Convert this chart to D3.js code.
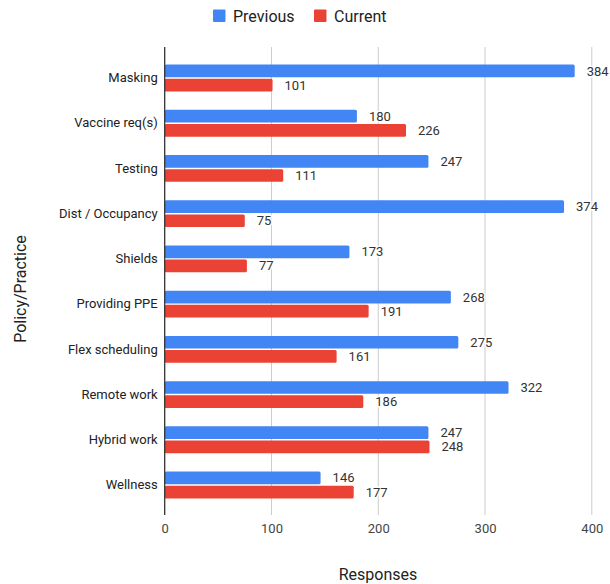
<!DOCTYPE html>
<html>
<head>
<meta charset="utf-8">
<script src="https://cdn.jsdelivr.net/npm/d3@7"></script>
<style>
  html, body { margin: 0; padding: 0; background: #fff; }
  svg { display: block; font-family: Roboto, "Noto Sans", Arial, sans-serif; }
  .val { paint-order: stroke; stroke: #fff; stroke-width: 3px; stroke-linejoin: round; }
</style>
</head>
<body>
<svg id="chart" width="610" height="584"></svg>
<script>
// Survey responses per policy / practice
const categories = ["Masking", "Vaccine req(s)", "Testing", "Dist / Occupancy", "Shields",
  "Providing PPE", "Flex scheduling", "Remote work", "Hybrid work", "Wellness"];
const previousValues = [384, 180, 247, 374, 173, 268, 275, 322, 247, 146];
const currentValues  = [101, 226, 111, 75, 77, 191, 161, 186, 248, 177];
const seriesNames = ["Previous", "Current"];
const seriesColors = ["#4285F4", "#EA4335"];
const xTicks = [0, 100, 200, 300, 400];

const svg = d3.select("#chart");
const plot = { left: 164.7, right: 591.8, top: 47, bottom: 515 };

const x = d3.scaleLinear().domain([0, 400]).range([plot.left, plot.right]);
const y = d3.scaleBand().domain(categories).range([55.4, 507.6]);
const ySub = d3.scaleBand().domain(seriesNames).range([-13.4, 13.4]).paddingInner(0.1);

const rows = categories.map((c, i) => ({
  category: c,
  values: [previousValues[i], currentValues[i]]
}));

// vertical gridlines
svg.append("g").selectAll("line")
  .data(xTicks.filter(t => t !== 0))
  .join("line")
  .attr("x1", d => x(d)).attr("x2", d => x(d))
  .attr("y1", plot.top).attr("y2", plot.bottom)
  .attr("stroke", "#cccccc").attr("stroke-width", 1);

// x tick labels
const xAxis = d3.axisBottom(x).tickValues(xTicks).tickSize(0).tickPadding(9);
const gx = svg.append("g").attr("transform", `translate(0,${plot.bottom})`).call(xAxis);
gx.select(".domain").remove();
gx.selectAll("text").attr("font-size", 13).attr("fill", "#444").attr("font-family", "Roboto, sans-serif");

// bars
const groups = svg.append("g").selectAll("g")
  .data(rows)
  .join("g")
  .attr("transform", d => `translate(0,${y(d.category) + y.bandwidth() / 2})`);

groups.selectAll("rect")
  .data(d => d.values.map((v, k) => ({ series: seriesNames[k], value: v, k })))
  .join("rect")
  .attr("x", x(0))
  .attr("y", d => ySub(d.series))
  .attr("width", d => x(d.value) - x(0))
  .attr("height", ySub.bandwidth())
  .attr("rx", 1.5)
  .attr("fill", d => seriesColors[d.k]);

// value labels
groups.selectAll("text.val")
  .data(d => d.values.map((v, k) => ({ series: seriesNames[k], value: v, k })))
  .join("text")
  .attr("class", "val")
  .attr("x", d => x(d.value) + 12)
  .attr("y", d => ySub(d.series) + ySub.bandwidth() / 2)
  .attr("dy", "0.35em")
  .attr("font-size", 13)
  .attr("fill", "#333")
  .text(d => d.value);

// category axis
const yAxis = d3.axisLeft(y).tickSize(0).tickPadding(7);
const gy = svg.append("g").attr("transform", `translate(${plot.left},0)`).call(yAxis);
gy.select(".domain").remove();
gy.selectAll("text").attr("font-size", 13).attr("fill", "#222").attr("font-family", "Roboto, sans-serif");

// baseline at zero
svg.append("line")
  .attr("x1", x(0)).attr("x2", x(0))
  .attr("y1", plot.top).attr("y2", plot.bottom)
  .attr("stroke", "#333").attr("stroke-width", 1.3);

// axis titles
svg.append("text")
  .attr("x", 378).attr("y", 580)
  .attr("text-anchor", "middle")
  .attr("font-size", 16).attr("fill", "#222")
  .text("Responses");

svg.append("text")
  .attr("transform", "translate(26,289) rotate(-90)")
  .attr("text-anchor", "middle")
  .attr("font-size", 16).attr("fill", "#222")
  .text("Policy/Practice");

// legend
const legend = svg.append("g");
const legendX = [213, 314];
seriesNames.forEach((name, k) => {
  legend.append("rect")
    .attr("x", legendX[k]).attr("y", 9.5)
    .attr("width", 12.5).attr("height", 12.5)
    .attr("rx", 1)
    .attr("fill", seriesColors[k]);
  legend.append("text")
    .attr("x", legendX[k] + 20).attr("y", 16)
    .attr("dy", "0.35em")
    .attr("font-size", 16).attr("fill", "#222")
    .text(name);
});
</script>
</body>
</html>
